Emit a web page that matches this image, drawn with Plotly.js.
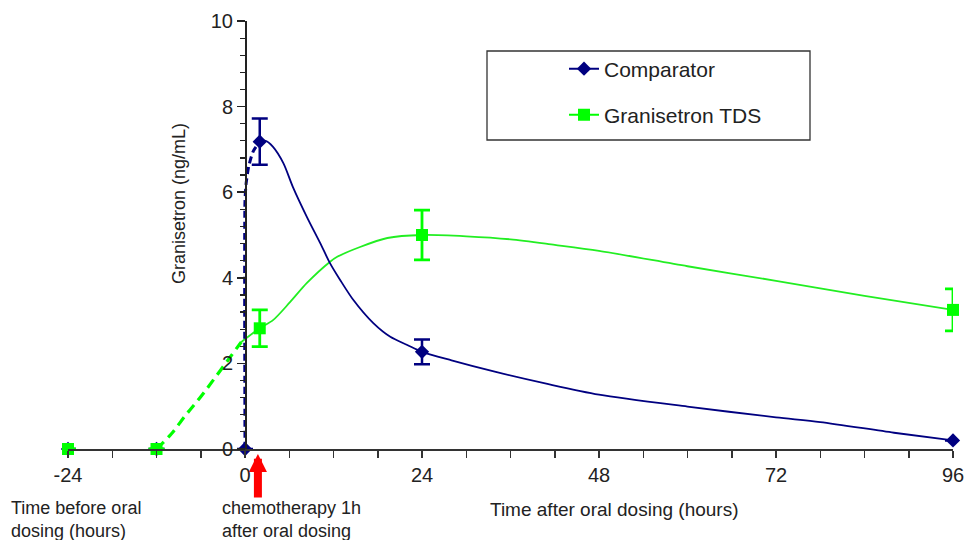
<!DOCTYPE html>
<html><head><meta charset="utf-8">
<script src="https://cdn.plot.ly/plotly-3.0.1.min.js"></script>
<style>html,body{margin:0;padding:0;background:#fff}#chart{width:964px;height:540px}</style>
</head><body><div id="chart"></div>
<script>
// ---- data (hours, ng/mL) ----
const xTickVals = [-24, 0, 24, 48, 72, 96];
const xTickText = ['-24', '0', '24', '48', '72', '96'];

// measured points (markers + error bars)
const cmpX   = [-24, -12, 0, 2, 24, 96];
const cmpY   = [0, 0, 0, 7.18, 2.27, 0.2];
const cmpErr = [0, 0, 0, 0.54, 0.29, 0];

const tdsX   = [-24, -12, 2, 24, 96];
const tdsY   = [0, 0, 2.82, 5.0, 3.25];
const tdsErr = [0, 0, 0.43, 0.58, 0.49];

// smoothed curves
const cmpDashX = [0, 0, 0.15, 0.5, 1.1, 2];
const cmpDashY = [0, 5.8, 6.2, 6.6, 6.95, 7.18];
const cmpCurveX = [2, 2.8, 3.8, 5.2, 6.5, 8.4, 10.2, 11.5, 12.9, 14.7, 17.4, 19.7, 22, 24, 28, 34, 41, 48, 60, 72, 78, 88, 96];
const cmpCurveY = [7.18, 7.2, 7.06, 6.68, 6.12, 5.42, 4.81, 4.35, 3.95, 3.48, 2.94, 2.62, 2.43, 2.27, 2.07, 1.8, 1.52, 1.27, 0.99, 0.74, 0.63, 0.38, 0.2];

const tdsDashX = [-12, -10, -8, -6, -4, -2, -0.5];
const tdsDashY = [0, 0.35, 0.8, 1.22, 1.68, 2.15, 2.5];
const tdsCurveX = [-0.5, 2, 3.8, 6.1, 8.4, 11.5, 12.5, 15.6, 19.3, 24, 30, 36, 42, 48, 60, 72, 84, 96];
const tdsCurveY = [2.5, 2.82, 3.01, 3.43, 3.88, 4.37, 4.49, 4.72, 4.93, 5.0, 4.97, 4.9, 4.77, 4.63, 4.27, 3.93, 3.58, 3.25];

const chemoTime = 1.75;

// ---- layout helpers ----
const W = 964, H = 540, L = 68, R = 11, T = 21, B = 91;
const pw = W - L - R, ph = H - T - B;
const px = x => (x - L) / pw;
const py = y => (H - B - y) / ph;
function isolate(arr) { const out = []; arr.forEach((v, i) => { if (i) out.push(null); out.push(v); }); return out; }

const NAVY = '#000080', GREEN = '#00ff00', GLINE = '#22ee22', TXT = '#222222';

const traces = [
  { x: tdsDashX, y: tdsDashY, mode: 'lines', line: { color: GREEN, width: 3.2, dash: '10px,6px', shape: 'spline' }, showlegend: false, hoverinfo: 'skip' },
  { x: tdsCurveX, y: tdsCurveY, mode: 'lines', line: { color: GLINE, width: 1.8, shape: 'spline', smoothing: 0.8 }, showlegend: false },
  { x: cmpDashX, y: cmpDashY, mode: 'lines', line: { color: NAVY, width: 3, dash: '7px,4px', shape: 'spline', smoothing: 0.6 }, showlegend: false, hoverinfo: 'skip' },
  { x: cmpCurveX, y: cmpCurveY, mode: 'lines', line: { color: NAVY, width: 1.8, shape: 'spline', smoothing: 0.8 }, showlegend: false },
  { name: 'Comparator', legend: 'legend', x: isolate(cmpX), y: isolate(cmpY), mode: 'lines+markers',
    line: { color: NAVY, width: 2 }, marker: { symbol: 'diamond', size: 11, color: NAVY },
    error_y: { type: 'data', array: isolate(cmpErr), visible: true, color: NAVY, thickness: 2.5, width: 8 },
    cliponaxis: false },
  { name: 'Granisetron TDS', legend: 'legend2', x: isolate(tdsX), y: isolate(tdsY), mode: 'lines+markers',
    line: { color: GREEN, width: 2 }, marker: { symbol: 'square', size: 12, color: GREEN },
    error_y: { type: 'data', array: isolate(tdsErr), visible: true, color: GREEN, thickness: 2.8, width: 8 },
    cliponaxis: false }
];

const legendBase = { xanchor: 'left', yanchor: 'middle', bgcolor: 'rgba(0,0,0,0)', borderwidth: 0,
  font: { family: 'Liberation Sans, Arial, sans-serif', size: 21, color: TXT } };

const layout = {
  width: W, height: H,
  margin: { l: L, r: R, t: T, b: B, pad: 0 },
  paper_bgcolor: '#fff', plot_bgcolor: '#fff',
  font: { family: 'Liberation Sans, Arial, sans-serif', color: TXT },
  showlegend: true,
  legend: Object.assign({ x: px(564), y: py(69) }, legendBase),
  legend2: Object.assign({ x: px(564), y: py(115) }, legendBase),
  xaxis: {
    range: [-24, 96], tickmode: 'array', tickvals: xTickVals, ticktext: xTickText,
    ticks: 'outside', ticklen: 7, tickwidth: 1.5, tickcolor: '#333', ticklabeloverflow: 'allow',
    showline: true, linecolor: '#333', linewidth: 1.5, showgrid: false, zeroline: false,
    minor: { dtick: 6, tick0: 0, ticks: 'outside', ticklen: 7, tickwidth: 1.5, tickcolor: '#333' },
    tickfont: { size: 20, color: TXT }, fixedrange: true
  },
  yaxis: {
    range: [0, 10], dtick: 2, anchor: 'free', position: (0 - (-24)) / 120,
    ticks: 'outside', ticklen: 8, tickwidth: 1.5, tickcolor: '#222',
    showline: true, linecolor: '#222', linewidth: 1.5, showgrid: false, zeroline: false,
    minor: { dtick: 0.4, ticks: 'outside', ticklen: 5, tickwidth: 1.2, tickcolor: '#222' },
    tickfont: { size: 20, color: TXT }, fixedrange: true
  },
  shapes: [
    { type: 'rect', xref: 'paper', yref: 'paper', x0: px(487), x1: px(810), y0: py(51), y1: py(140),
      line: { color: '#333', width: 1.3 }, fillcolor: 'rgba(0,0,0,0)', layer: 'below' }
  ],
  annotations: [
    { xref: 'paper', yref: 'paper', x: px(167), y: py(204), text: 'Granisetron (ng/mL)', textangle: -90,
      showarrow: false, font: { size: 18, color: TXT } },
    { xref: 'paper', yref: 'paper', x: px(9), y: py(496), xanchor: 'left', yanchor: 'top', align: 'left',
      text: 'Time before oral<br>dosing (hours)', showarrow: false, font: { size: 18, color: TXT } },
    { xref: 'paper', yref: 'paper', x: px(220), y: py(496), xanchor: 'left', yanchor: 'top', align: 'left',
      text: 'chemotherapy 1h<br>after oral dosing', showarrow: false, font: { size: 18, color: TXT } },
    { xref: 'paper', yref: 'paper', x: px(488), y: py(497), xanchor: 'left', yanchor: 'top', align: 'left',
      text: 'Time after oral dosing (hours)', showarrow: false, font: { size: 19, color: TXT } },
    { xref: 'x', yref: 'paper', x: chemoTime, y: py(454), ax: 0, ay: 45, text: '', showarrow: true,
      arrowhead: 2, arrowsize: 0.45, arrowwidth: 8, arrowcolor: '#ff0000', standoff: 0 }
  ]
};

Plotly.newPlot('chart', traces, layout, { displayModeBar: false, staticPlot: true });
</script>
</body></html>
